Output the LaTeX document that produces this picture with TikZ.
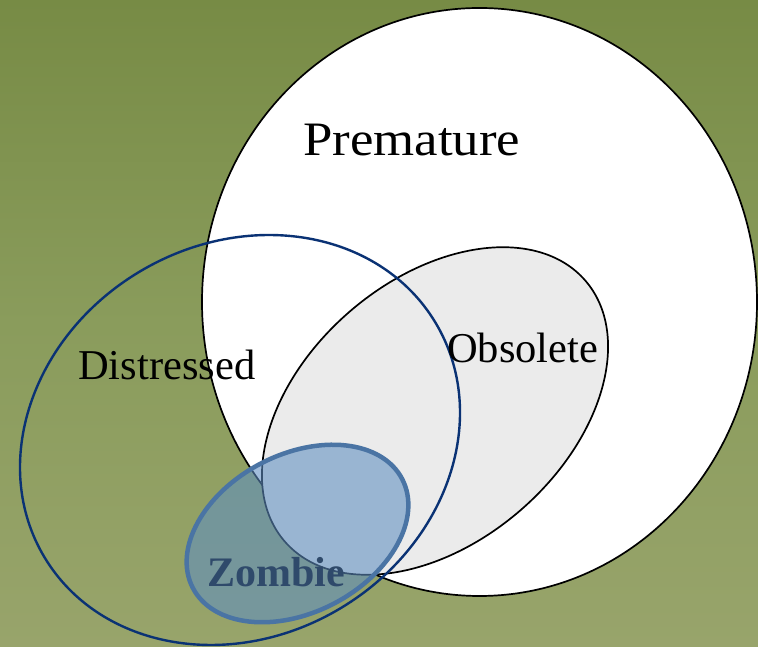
\documentclass[tikz,border=0pt]{standalone}
\usepackage{fontspec}
\setmainfont{Liberation Serif}
\definecolor{bgtop}{HTML}{778B45}
\definecolor{bgmid}{HTML}{8A9C5C}
\definecolor{bgbot}{HTML}{98A46B}
\definecolor{obsfill}{HTML}{EBEBEB}
\definecolor{distblue}{HTML}{0A3274}
\definecolor{zombfill}{HTML}{5F8FC1}
\definecolor{zombline}{HTML}{4A74A4}
\definecolor{zombtext}{HTML}{2F4A6B}
\tikzset{
  setline/.style={draw=black, line width=1.7pt},
  lbl/.style={anchor=base west, inner sep=0pt, text=black},
}
\begin{document}
\begin{tikzpicture}[x=1pt,y=1pt]
\useasboundingbox (0,0) rectangle (758,647);
\shade[top color=bgtop, bottom color=bgbot, middle color=bgmid] (0,0) rectangle (758,647);
% Premature
\filldraw[setline, fill=white] (479.5,345) ellipse [x radius=277.5, y radius=294];
% Obsolete
\filldraw[setline, fill=obsfill, rotate around={41:(435,236)}] (435,236) ellipse [x radius=199, y radius=131];
% Distressed
\draw[draw=distblue, line width=2.4pt, rotate around={31:(240,207)}] (240,207) ellipse [x radius=228, y radius=196];
% labels
\node[lbl, font=\fontsize{48}{48}\selectfont, xscale=1.1] (prem) at (303,491) {Premature};
\node[lbl, font=\fontsize{42.5}{42.5}\selectfont] (dist) at (78,267) {Distressed};
\node[lbl, font=\fontsize{42.5}{42.5}\selectfont] (obs) at (447,284) {Obsolete};
% Zombie
\filldraw[draw=zombline, line width=4.5pt, fill=zombfill, fill opacity=0.58, rotate around={27.5:(297.5,113.5)}] (297.5,113.5) ellipse [x radius=118, y radius=79];
\node[lbl, text=zombtext, font=\bfseries\fontsize{42}{42}\selectfont] (zomb) at (207,60) {Zombie};
\end{tikzpicture}
\end{document}
